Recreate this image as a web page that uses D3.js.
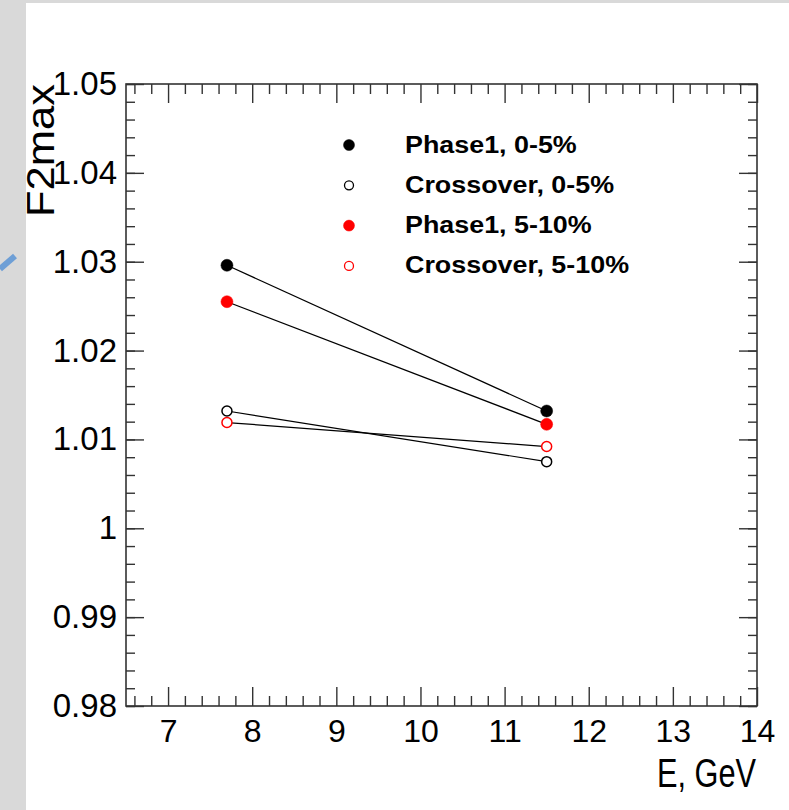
<!DOCTYPE html>
<html>
  <head>
    <meta charset="utf-8" />
    <script src="https://cdn.jsdelivr.net/npm/d3@7"></script>
    <style>
    body { margin: 0; background: #d9d9d9; }
    .tick text { font-family: "Liberation Sans", Arial, sans-serif; fill: #000; }
    .tick line { stroke: #333; stroke-width: 1.4; }
    .frame { fill: none; stroke: #333; stroke-width: 1.6; }
    .link { stroke: #000; stroke-width: 1.2; fill: none; }
    .leg-text { font-family: "Liberation Sans", Arial, sans-serif; font-weight: bold; font-size: 24px; }
    </style>
  </head>
  <body>
    <script type="text/javascript">
var W = 789, H = 810;

// data
var energies = [7.7, 11.5];
var phase1_0_5 = [1.0296, 1.0132];
var cross_0_5 = [1.0132, 1.0075];
var phase1_5_10 = [1.0255, 1.0117];
var cross_5_10 = [1.0119, 1.0092];

var seriesNames = ["Phase1, 0-5%", "Crossover, 0-5%", "Phase1, 5-10%", "Crossover, 5-10%"];
var seriesValues = [phase1_0_5, cross_0_5, phase1_5_10, cross_5_10];
var seriesColors = ["#000000", "#000000", "#ff0000", "#ff0000"];
var seriesFilled = [true, false, true, false];

var xTicks = [7, 8, 9, 10, 11, 12, 13, 14];
var yTicks = [0.98, 0.99, 1.0, 1.01, 1.02, 1.03, 1.04, 1.05];

var svg = d3.select("body").append("svg")
    .attr("width", W).attr("height", H);

// slide background
svg.append("rect").attr("x", 26).attr("y", 3).attr("width", W - 26).attr("height", H - 3)
    .attr("fill", "#ffffff");
svg.append("line").attr("x1", 0).attr("y1", 269).attr("x2", 15).attr("y2", 256)
    .attr("stroke", "#6e9fd6").attr("stroke-width", 6);

var x = d3.scaleLinear().domain([6.5, 14]).range([126, 757]);
var y = d3.scaleLinear().domain([0.98, 1.05]).range([706, 84]);

var xMinor = d3.range(33, 71).map(function(i) { return i / 5; }).filter(function(v) { return v % 1 !== 0; });
var yMinor = d3.range(490, 526).map(function(i) { return i / 500; });

function yFmt(d) { return String(+d.toFixed(2)); }

// minor ticks
svg.append("g").attr("transform", "translate(0,706)")
    .call(d3.axisBottom(x).tickValues(xMinor).tickSizeInner(-10).tickSizeOuter(0).tickFormat(""));
svg.append("g").attr("transform", "translate(0,84)")
    .call(d3.axisTop(x).tickValues(xMinor).tickSizeInner(-10).tickSizeOuter(0).tickFormat(""));
svg.append("g").attr("transform", "translate(126,0)")
    .call(d3.axisLeft(y).tickValues(yMinor).tickSizeInner(-9).tickSizeOuter(0).tickFormat(""));
svg.append("g").attr("transform", "translate(757,0)")
    .call(d3.axisRight(y).tickValues(yMinor).tickSizeInner(-9).tickSizeOuter(0).tickFormat(""));

// major ticks
var gx = svg.append("g").attr("transform", "translate(0,706)")
    .call(d3.axisBottom(x).tickValues(xTicks).tickSizeInner(-19).tickSizeOuter(0).tickPadding(13));
gx.selectAll("text").style("font-size", "32px");
svg.append("g").attr("transform", "translate(0,84)")
    .call(d3.axisTop(x).tickValues(xTicks).tickSizeInner(-19).tickSizeOuter(0).tickFormat(""));
var gy = svg.append("g").attr("transform", "translate(126,0)")
    .call(d3.axisLeft(y).tickValues(yTicks).tickSizeInner(-18).tickSizeOuter(0).tickPadding(9).tickFormat(yFmt));
gy.selectAll("text").style("font-size", "33px");
svg.append("g").attr("transform", "translate(757,0)")
    .call(d3.axisRight(y).tickValues(yTicks).tickSizeInner(-18).tickSizeOuter(0).tickFormat(""));

svg.selectAll(".domain").remove();

svg.append("rect").attr("class", "frame")
    .attr("x", 126).attr("y", 84).attr("width", 757 - 126).attr("height", 706 - 84);

// axis titles
svg.append("text")
    .attr("x", 756).attr("y", 787)
    .attr("text-anchor", "end")
    .attr("textLength", 99).attr("lengthAdjust", "spacingAndGlyphs")
    .style("font-family", "Liberation Sans, Arial, sans-serif")
    .style("font-size", "41px")
    .text("E, GeV");

svg.append("text")
    .attr("transform", "translate(54,84) rotate(-90)")
    .attr("text-anchor", "end")
    .attr("textLength", 133).attr("lengthAdjust", "spacingAndGlyphs")
    .style("font-family", "Liberation Sans, Arial, sans-serif")
    .style("font-size", "38px")
    .text("F2max");

// series
var line = d3.line()
    .x(function(d, i) { return x(energies[i]); })
    .y(function(d) { return y(d); });

seriesValues.forEach(function(vals) {
    svg.append("path").attr("class", "link").attr("d", line(vals));
});

seriesValues.forEach(function(vals, s) {
    svg.selectAll(null).data(vals).enter().append("circle")
        .attr("cx", function(d, i) { return x(energies[i]); })
        .attr("cy", function(d) { return y(d); })
        .attr("r", seriesFilled[s] ? 6 : 5)
        .attr("fill", seriesFilled[s] ? seriesColors[s] : "#fff")
        .attr("stroke", seriesColors[s])
        .attr("stroke-width", seriesFilled[s] ? 0.5 : 1.5);
});

// legend
var leg = svg.append("g");
seriesNames.forEach(function(name, s) {
    var cy = 145 + s * 40.3;
    leg.append("circle")
        .attr("cx", 349).attr("cy", cy)
        .attr("r", seriesFilled[s] ? 5.5 : 4.5)
        .attr("fill", seriesFilled[s] ? seriesColors[s] : "#fff")
        .attr("stroke", seriesColors[s])
        .attr("stroke-width", seriesFilled[s] ? 0.5 : 1.3);
    leg.append("text").attr("class", "leg-text")
        .attr("transform", "translate(405," + (cy + 7.5) + ") scale(1.12,1)")
        .text(name);
});
    </script>
  </body>
</html>
